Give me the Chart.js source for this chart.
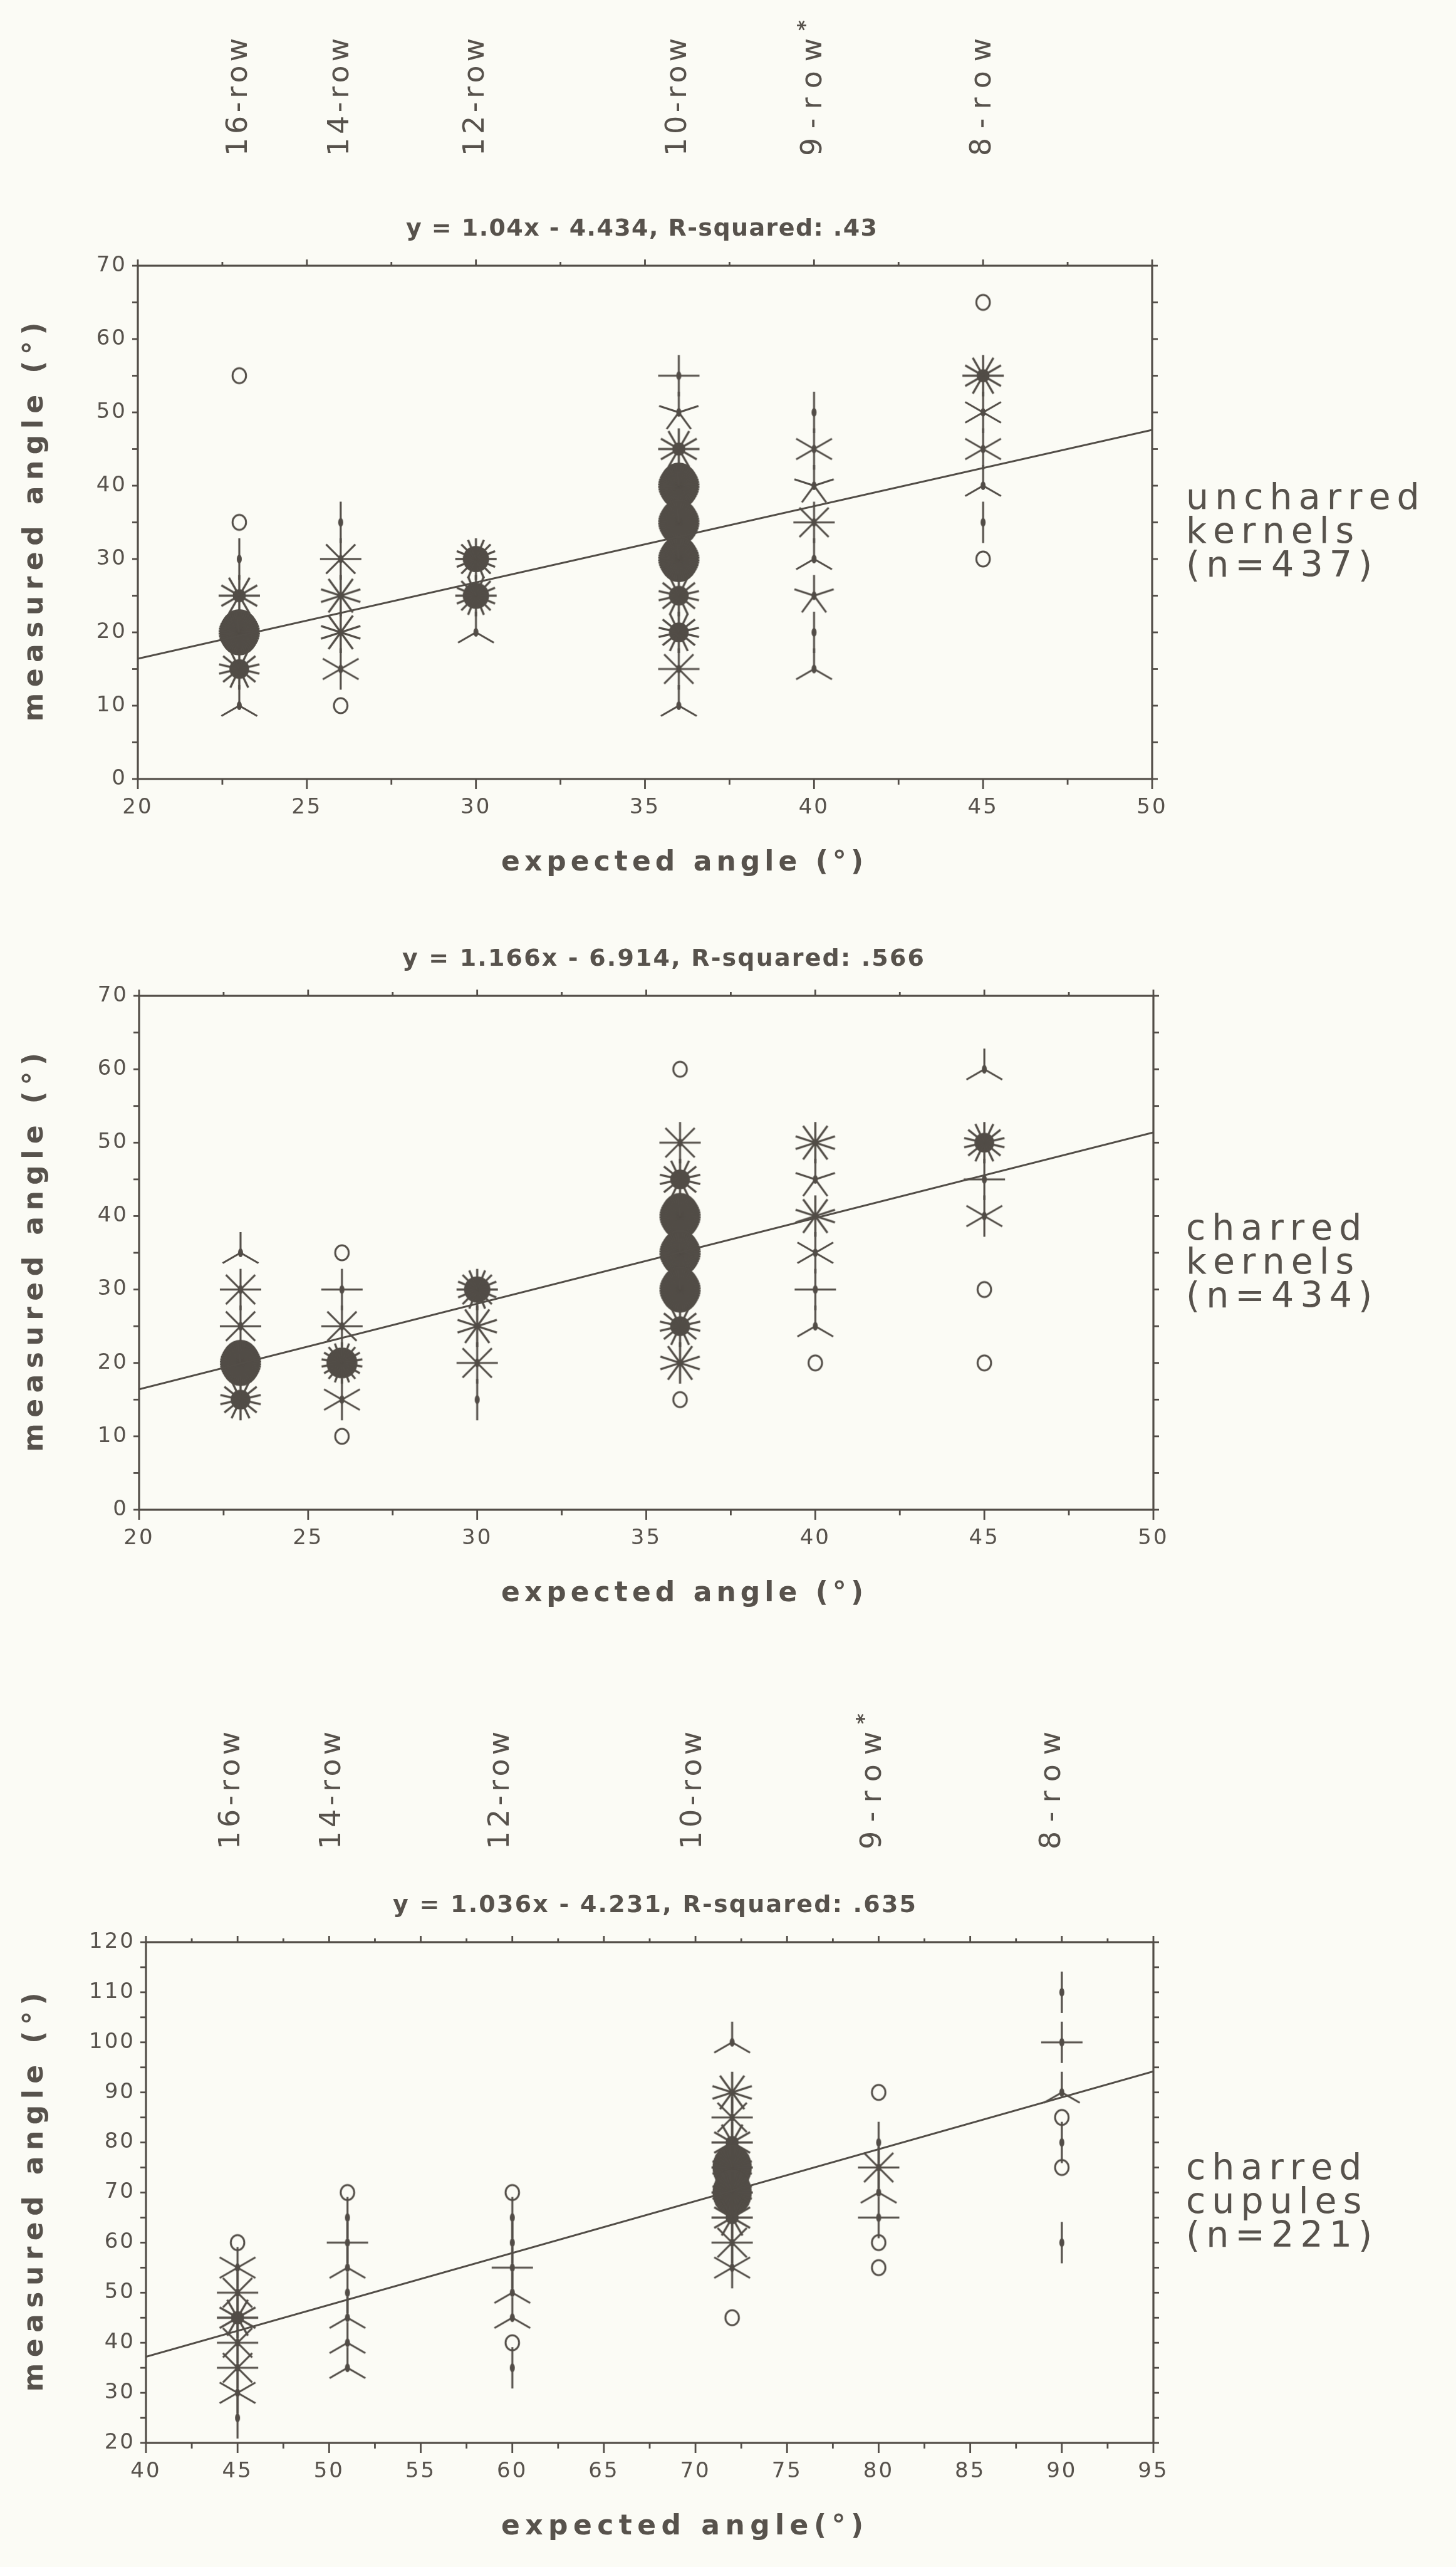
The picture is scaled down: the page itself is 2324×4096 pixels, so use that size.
<!DOCTYPE html>
<html>
<head>
<meta charset="utf-8">
<script src="https://cdn.jsdelivr.net/npm/chart.js@4.4.1/dist/chart.umd.min.js"></script>
<style>
  html, body { margin: 0; padding: 0; background: #fbfbf5; }
  body { width: 2324px; height: 4096px; position: relative; overflow: hidden; }
  .panel { position: absolute; left: 0; width: 2324px; }
  .panel canvas { display: block; }
</style>
</head>
<body>
<div class="panel" style="top:0;height:1450px"><canvas id="uncharred"></canvas></div>
<div class="panel" style="top:1450px;height:1150px"><canvas id="charred"></canvas></div>
<div class="panel" style="top:2600px;height:1496px"><canvas id="cupules"></canvas></div>
<script>
const INK = '#524d47';
const TEXT = '#57524c';
const FONT = '"DejaVu Sans", Verdana, sans-serif';

// row-number labels above the kernel and cupule plots
const rowLabels = ['16-row', '14-row', '12-row', '10-row', '9-row*', '8-row'];
const kernelRowAt = [23, 26, 30, 36, 40, 45];
const cupuleRowAt = [44.7, 50.2, 59.4, 69.9, 79.7, 89.5];

// uncharred kernels (n=437): one sunflower per (x, y), n = observations
const unchX = [23, 23, 23, 23, 23, 23, 23, 26, 26, 26, 26, 26, 26, 30, 30, 30,
  36, 36, 36, 36, 36, 36, 36, 36, 36, 36, 40, 40, 40, 40, 40, 40, 40, 40,
  45, 45, 45, 45, 45, 45, 45];
const unchY = [55, 35, 30, 25, 20, 15, 10, 35, 30, 25, 20, 15, 10, 30, 25, 20,
  55, 50, 45, 40, 35, 30, 25, 20, 15, 10, 50, 45, 40, 35, 30, 25, 20, 15,
  65, 55, 50, 45, 40, 35, 30];
const unchN = [1, 1, 2, 12, 50, 14, 3, 2, 8, 10, 10, 6, 1, 16, 16, 3,
  4, 5, 12, 50, 50, 50, 14, 14, 8, 3, 2, 6, 5, 8, 3, 5, 2, 3,
  1, 12, 6, 6, 3, 2, 1];
const unchFitX = [20, 50];
const unchFitY = [16.4, 47.6];

// charred kernels (n=434)
const charX = [23, 23, 23, 23, 23, 26, 26, 26, 26, 26, 26, 30, 30, 30, 30,
  36, 36, 36, 36, 36, 36, 36, 36, 36, 40, 40, 40, 40, 40, 40, 40,
  45, 45, 45, 45, 45, 45];
const charY = [35, 30, 25, 20, 15, 35, 30, 25, 20, 15, 10, 30, 25, 20, 15,
  60, 50, 45, 40, 35, 30, 25, 20, 15, 50, 45, 40, 35, 30, 25, 20,
  60, 50, 45, 40, 30, 20];
const charN = [3, 8, 8, 50, 14, 1, 4, 8, 18, 6, 1, 16, 10, 8, 2,
  1, 8, 14, 50, 50, 50, 14, 10, 1, 10, 5, 10, 6, 4, 3, 1,
  3, 14, 4, 6, 1, 1];
const charFitX = [20, 50];
const charFitY = [16.4, 51.4];

// charred cupules (n=221)
const cupX = [45, 45, 45, 45, 45, 45, 45, 45, 51, 51, 51, 51, 51, 51, 51, 51,
  60, 60, 60, 60, 60, 60, 60, 60, 72, 72, 72, 72, 72, 72, 72, 72, 72, 72,
  80, 80, 80, 80, 80, 80, 80, 90, 90, 90, 90, 90, 90, 90];
const cupY = [60, 55, 50, 45, 40, 35, 30, 25, 70, 65, 60, 55, 50, 45, 40, 35,
  70, 65, 60, 55, 50, 45, 40, 35, 100, 90, 85, 80, 75, 70, 65, 60, 55, 45,
  90, 80, 75, 70, 65, 60, 55, 110, 100, 90, 85, 80, 75, 60];
const cupN = [1, 6, 8, 12, 8, 8, 6, 2, 1, 2, 4, 3, 2, 3, 3, 3,
  1, 2, 2, 4, 3, 3, 1, 2, 3, 10, 8, 12, 20, 20, 12, 8, 6, 1,
  1, 2, 8, 3, 4, 1, 1, 2, 4, 3, 1, 2, 1, 2];
const cupFitX = [40, 95];
const cupFitY = [37.2, 94.2];

// sunflower glyphs: a ring for one observation, otherwise one petal per observation
const RAY = 33;
const RING = 12;
const glyphs = {};
function sunflower(n) {
  if (glyphs[n]) return glyphs[n];
  const size = Math.ceil(RAY * 2.6);
  const cv = document.createElement('canvas');
  cv.width = size;
  cv.height = size;
  const g = cv.getContext('2d');
  const c = size / 2;
  g.strokeStyle = INK;
  g.fillStyle = INK;
  g.lineWidth = 3;
  if (n === 1) {
    g.beginPath();
    g.ellipse(c, c, RING * 0.9, RING, 0, 0, Math.PI * 2);
    g.stroke();
  } else {
    if (n >= 20) {
      g.beginPath();
      g.ellipse(c, c, RAY * 0.95, RAY * 1.12, 0, 0, Math.PI * 2);
      g.fill();
    } else if (n >= 9) {
      const r = RAY * Math.min(0.75, (n - 8) * 0.08);
      g.beginPath();
      g.arc(c, c, r, 0, Math.PI * 2);
      g.fill();
    } else {
      g.beginPath();
      g.ellipse(c, c, 4, 7, 0, 0, Math.PI * 2);
      g.fill();
    }
    g.lineWidth = n >= 9 ? 3.4 : 3.1;
    for (let i = 0; i < n; i++) {
      const a = (i * 2 * Math.PI) / n;
      g.beginPath();
      g.moveTo(c, c);
      g.lineTo(c + RAY * Math.sin(a), c - RAY * Math.cos(a));
      g.stroke();
    }
  }
  glyphs[n] = cv;
  return cv;
}

// draws text with its letters spread out to a given width (old bitmap font look)
function spacedText(ctx, text, x, y, width) {
  const chars = [...text];
  const ws = chars.map((ch) => ctx.measureText(ch).width);
  const total = ws.reduce((s, w) => s + w, 0);
  const gap = chars.length > 1 ? (width - total) / (chars.length - 1) : 0;
  let cx = x;
  chars.forEach((ch, i) => {
    ctx.fillText(ch, cx, y);
    cx += ws[i] + gap;
  });
}

const decor = {
  id: 'decor',
  beforeDraw(chart) {
    chart.ctx.letterSpacing = '3px';
  },
  beforeDatasetsDraw(chart) {
    chart.ctx.letterSpacing = '0px';
  },
  afterDraw(chart, args, o) {
    const { ctx, chartArea: a, scales: { x, y } } = chart;
    ctx.save();
    ctx.strokeStyle = INK;
    ctx.fillStyle = TEXT;
    ctx.lineWidth = 3.2;
    ctx.strokeRect(a.left, a.top, a.right - a.left, a.bottom - a.top);

    ctx.lineWidth = 2.8;
    const tick = (x1, y1, x2, y2) => {
      ctx.beginPath();
      ctx.moveTo(x1, y1);
      ctx.lineTo(x2, y2);
      ctx.stroke();
    };
    const major = (v, step) => Math.abs(v / step - Math.round(v / step)) < 1e-6;
    for (let v = x.min; v <= x.max + 1e-6; v += o.xMinor) {
      const px = x.getPixelForValue(v);
      const big = major(v, o.xMajor);
      tick(px, a.bottom, px, a.bottom + (big ? 16 : 9));
      tick(px, a.top, px, a.top - (big ? 10 : 6));
    }
    for (let v = y.min; v <= y.max + 1e-6; v += o.yMinor) {
      const py = y.getPixelForValue(v);
      tick(a.left - 9, py, a.left, py);
      tick(a.right, py, a.right + 9, py);
    }

    ctx.textBaseline = 'middle';
    ctx.textAlign = 'left';

    // regression equation
    ctx.font = 'bold 38px ' + FONT;
    spacedText(ctx, o.title, o.titleLeft, a.top - 58, o.titleWidth);

    // row labels, reading upwards
    if (o.rowAt) {
      ctx.font = '46px ' + FONT;
      rowLabels.forEach((label, i) => {
        const px = x.getPixelForValue(o.rowAt[i]);
        const star = label.endsWith('*');
        ctx.save();
        ctx.translate(px, a.top - o.rowGap);
        ctx.rotate(-Math.PI / 2);
        spacedText(ctx, star ? label.slice(0, -1) : label, 0, 0, 188);
        if (star) {
          ctx.font = 'bold 32px ' + FONT;
          ctx.fillText('*', 200, -13);
          ctx.font = '46px ' + FONT;
        }
        ctx.restore();
      });
    }

    // axis titles
    ctx.font = 'bold 44px ' + FONT;
    spacedText(ctx, o.xTitle, o.xTitleLeft, a.bottom + 135, 578);
    ctx.save();
    ctx.translate(57, (a.top + a.bottom) / 2);
    ctx.rotate(-Math.PI / 2);
    spacedText(ctx, 'measured angle (°)', -318, 0, 637);
    ctx.restore();

    // sample label on the right
    ctx.font = '57px ' + FONT;
    const mid = (a.top + a.bottom) / 2 + 18;
    o.side.forEach((line, i) => {
      const chars = [...line];
      const w = chars.reduce((s, ch) => s + ctx.measureText(ch).width, 0) + 10 * (chars.length - 1);
      spacedText(ctx, line, 1893, mid + (i - 1) * 54, w);
    });
    ctx.restore();
  }
};

function makeChart(id, xs, ys, ns, fitX, fitY, cfg) {
  const points = xs.map((x, i) => ({ x, y: ys[i], n: ns[i] }));
  const fit = fitX.map((x, i) => ({ x, y: fitY[i] }));
  const tickFont = { family: '"DejaVu Sans", Verdana, sans-serif', size: 34 };
  return new Chart(document.getElementById(id), {
    type: 'scatter',
    data: {
      datasets: [
        {
          type: 'line',
          data: fit,
          borderColor: INK,
          borderWidth: 3,
          pointRadius: 0,
          fill: false
        },
        {
          data: points,
          pointStyle: (c) => sunflower(c.raw.n),
          pointRadius: 5
        }
      ]
    },
    options: {
      responsive: true,
      maintainAspectRatio: false,
      animation: false,
      events: [],
      layout: { padding: cfg.padding },
      plugins: {
        legend: { display: false },
        tooltip: { enabled: false },
        decor: cfg.decor
      },
      scales: {
        x: {
          type: 'linear',
          min: cfg.xMin,
          max: cfg.xMax,
          grid: { display: false, drawTicks: false },
          border: { display: false },
          ticks: { stepSize: 5, padding: 26, color: TEXT, font: tickFont, maxRotation: 0, autoSkip: false },
          afterFit: (s) => { s.height = 80; }
        },
        y: {
          type: 'linear',
          min: cfg.yMin,
          max: cfg.yMax,
          grid: { display: false, drawTicks: false },
          border: { display: false },
          ticks: { stepSize: 10, padding: 17, color: TEXT, font: tickFont },
          afterFit: (s) => { s.width = 100; }
        }
      }
    },
    plugins: [decor]
  });
}

makeChart('uncharred', unchX, unchY, unchN, unchFitX, unchFitY, {
  xMin: 20, xMax: 50, yMin: 0, yMax: 70,
  padding: { left: 120, right: 485, top: 424, bottom: 127 },
  decor: {
    xMinor: 2.5, xMajor: 5, yMinor: 5,
    title: 'y = 1.04x - 4.434, R-squared: .43', titleLeft: 648, titleWidth: 752,
    rowAt: kernelRowAt, rowGap: 175,
    xTitle: 'expected angle (°)', xTitleLeft: 800,
    side: ['uncharred', 'kernels', '(n=437)']
  }
});

makeChart('charred', charX, charY, charN, charFitX, charFitY, {
  xMin: 20, xMax: 50, yMin: 0, yMax: 70,
  padding: { left: 122, right: 483, top: 139, bottom: 111 },
  decor: {
    xMinor: 2.5, xMajor: 5, yMinor: 5,
    title: 'y = 1.166x - 6.914, R-squared: .566', titleLeft: 642, titleWidth: 833,
    xTitle: 'expected angle (°)', xTitleLeft: 800,
    side: ['charred', 'kernels', '(n=434)']
  }
});

makeChart('cupules', cupX, cupY, cupN, cupFitX, cupFitY, {
  xMin: 40, xMax: 95, yMin: 20, yMax: 120,
  padding: { left: 133, right: 483, top: 499, bottom: 118 },
  decor: {
    xMinor: 2.5, xMajor: 5, yMinor: 5,
    title: 'y = 1.036x - 4.231, R-squared: .635', titleLeft: 627, titleWidth: 835,
    rowAt: cupuleRowAt, rowGap: 148,
    xTitle: 'expected angle(°)', xTitleLeft: 800,
    side: ['charred', 'cupules', '(n=221)']
  }
});
</script>
</body>
</html>
